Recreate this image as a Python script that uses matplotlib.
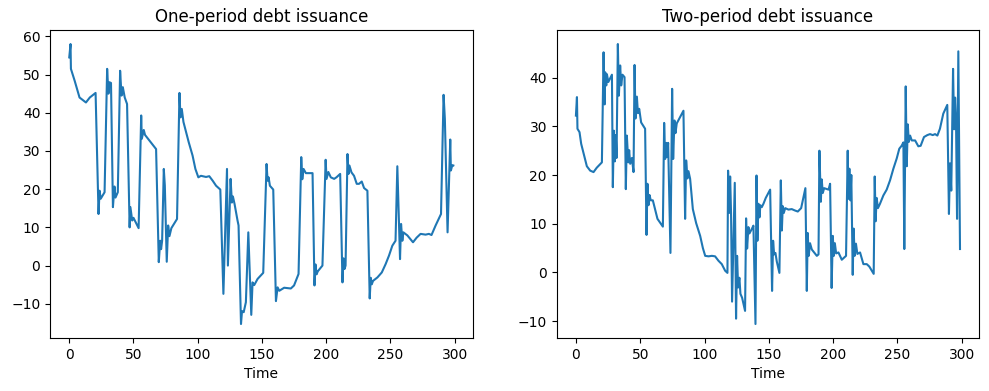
import matplotlib.pyplot as plt

# One-period debt issuance (time, value)
t_one = [0, 1, 1.3, 4.2, 8, 13, 16, 20.5, 22.8, 23.6, 24.5, 27.5, 29.5, 30.5, 31.3, 32.5,
         34, 35.2, 36, 37.8, 39.6, 40.7, 41.7, 43.2, 45, 47, 47.6, 49, 50, 54,
         56, 56.5, 58, 59, 62.5, 67.6, 69.7, 70.8, 71.5, 72.3, 73.6, 74.4, 75.9, 77, 78, 79.5,
         83.9, 85.8, 86.6, 87.6, 88.9, 93, 96, 98.2, 100.5, 102.5, 106.5, 109, 111.7, 114.3,
         117.6, 120, 122.8, 123.5, 125.6, 126.6, 127.4, 128.7, 131, 131.8, 133.7, 134.5,
         135.8, 137.5, 139.4, 141.7, 142.7, 144, 146.6, 151, 153.6, 154.4, 155.2, 156.2,
         158.8, 160.9, 162.2, 163.5, 167.3, 172.5, 175, 178.5, 180.6, 181.4, 182.4, 184.2,
         189.4, 190.9, 191.7, 192.5, 193.5, 197.1, 199.6, 200.3, 201.7, 203.6, 206.2, 208,
         210.9, 212.7, 213.5, 214.3, 215.1, 216.6, 217.4, 218.1, 219.7, 221.7, 223.8, 225.6,
         227.7, 229.5, 232.1, 233.9, 234.7, 235.5, 236.5, 239.9, 243.3, 246.3, 248.9, 251.5,
         254, 255.4, 257.5, 258.3, 259.3, 260.1, 263.2, 267.6, 270.4, 273.5, 277.4, 280, 282,
         285.2, 289.4, 291.4, 292.4, 294.5, 296.6, 297.1, 298.2, 299]
v_one = [54.5, 58, 51.5, 48.4, 44, 42.7, 44, 45.2, 13.5, 19.6, 17.5, 19.2, 51.5, 45, 48, 47.8,
         15.3, 20.7, 17.8, 19.2, 51, 44.5, 46.7, 44, 42.3, 10, 15.3, 11.8, 12.5, 9.8,
         39.3, 33.2, 35.5, 34.2, 32.7, 30.5, 0.9, 6.5, 4.3, 6.5, 25.3, 21, 1, 10.5, 7.7, 9.8,
         12.2, 45.2, 38.8, 41, 37.6, 32.3, 28.8, 25.3, 23.1, 23.5, 23.2, 23.4, 22.2, 20.9,
         19.9, -7.4, 25.3, 0, 22.7, 16.5, 18.1, 16.1, 11.8, 10.5, -15.3, -11.9,
         -12.2, -9.6, 8.7, -12.9, -4.4, -5.1, -3.5, -1.9, 26.6, 22.2, 23.1, 20.9,
         19.9, -9.3, -5.7, -6.6, -5.8, -6, -5.2, -2.2, 28.4, 22.6, 25.3, 24.2,
         24.2, -5.2, 0.3, -2.3, -1.5, 0, 27.7, 22.7, 24.5, 23.1, 22.7, 23.1,
         24, -4.4, 1.9, -0.9, 0, 29.2, 24, 26.2, 24.4, 23.5, 21.4, 21.4,
         22, 20.3, 19.6, -8.6, -3.2, -4.9, -4, -3.1, -1.8, 0.4, 2.6, 5.2,
         6.5, 26, 1.7, 10.9, 6.5, 8.7, 7.9, 6.1, 7.3, 8.3, 8.1, 8.3, 8,
         10.5, 13.5, 44.7, 38.4, 8.7, 33, 24.9, 26.3, 26.2]

# Two-period debt issuance
t_two = [0, 0.8, 1.2, 2.8, 4.1, 6.4, 8.5, 11.1, 13.7, 16.2, 20.2, 21.5, 22.3, 22.8, 23.6,
         24.1, 25.2, 28, 28.7, 29.5, 30.3, 31, 31.6, 32.6, 33.4, 34.4, 35.2, 36.2, 37.8,
         38.8, 39.6, 40.7, 41.4, 42.2, 43.5, 44.8, 45.6, 46.3, 47.4, 48.2, 49.2, 50.7, 53.8,
         54.9, 55.6, 56.4, 57.2, 58.2, 59.8, 63.4, 67.6, 68.6, 69.4, 70.2, 70.9, 71.7, 73.5,
         74.8, 75.6, 76.6, 77.4, 78.4, 83.6, 84.9, 85.7, 86.7, 87.5, 88.8, 90.9, 93.5, 96.6,
         98.7, 100.5, 103.1, 105.7, 108.2, 110.8, 113.4, 116, 117.8, 118.3, 119.1, 119.9,
         120.6, 121.4, 123.5, 124.5, 125.3, 126.1, 127.1, 127.9, 129.2, 131.5, 132.3, 133.1,
         134.1, 134.9, 136.7, 138, 139.6, 140.4, 141.1, 141.9, 142.7, 143.4, 144.5, 145.8,
         147.6, 151, 152.5, 153.3, 154.1, 155.1, 156.2, 158.2, 159.3, 160.1, 160.8, 161.6,
         162.7, 165.2, 167.8, 170.4, 172.5, 175.1, 178.4, 179.5, 180.2, 181, 182, 183.4,
         187.3, 188.6, 189.3, 190.4, 191.1, 191.9, 193, 196.4, 197.6, 198.8, 199.7, 200.5,
         201.3, 202.3, 204.1, 206.7, 210, 211.3, 211.8, 212.6, 213.4, 214.1, 215.2, 215.9,
         216.7, 217.7, 218.8, 220.9, 223.5, 226.1, 228.1, 231.5, 232.3, 233, 233.8, 234.8,
         236.4, 239, 241.6, 244.2, 246.8, 249.4, 251.4, 253.2, 254.6, 255.3, 256.4, 257.2,
         258, 258.8, 259.8, 261.1, 263.7, 266.2, 268, 270.6, 273.2, 275.3, 277.4, 279.2,
         281, 283, 285.6, 288.7, 290, 290.8, 291.8, 293.2, 294, 294.8, 295.5, 296.3, 297.3,
         298.6]
v_two = [32.2, 36, 29.5, 28.8, 26.4, 24, 21.8, 20.9, 20.6, 21.5, 22.6, 45.2, 34.5, 41.1, 38.4,
         40.7, 39.1, 40.6, 17.5, 29.1, 22.8, 28.2, 23.5, 46.9, 36.3, 42.5, 38.4, 40.6, 40.1,
         17.1, 28.1, 22.6, 25.1, 22.3, 23.5, 20.6, 42.6, 31.6, 36.1, 32.7, 33.6, 30.8, 29.5,
         7.7, 18.2, 13.8, 15.9, 14.8, 14.8, 11, 9.4, 30.7, 23.3, 26.6, 23.7, 26.6, 4,
         37.7, 23.3, 31.2, 28.6, 30.6, 33.2, 11, 23, 19.3, 20.8, 19.2, 13, 10.1, 7.5,
         5, 3.4, 3.3, 3.4, 3.3, 2.4, 1.7, 0.35, -0.1, 20.9, 12.2, 19.7,
         12.2, -6, 18.4, -9.5, 3.4, -3.1, -1.1, -4.4, -5.2, -7.9, 11.1, 4.9,
         9.3, 8, 8.9, 9.6, -10.6, 19.9, 6.5, 14.1, 11.3, 13.8, 13.4, 14.1,
         15.3, 17, -3.8, 6.5, 3.7, 4, 2.2, -0.1, 18.9, 8.6, 13.6, 12.2,
         13.2, 12.9, 13, 12.7, 12.5, 13.2, 17.3, -3.8, 8.1, 3.4, 6, 4.7,
         3.4, 3.7, 25, 14.5, 19.1, 16.3, 17.3, 17, 18.2, -3.2, 7.5, 3.4,
         6, 3.9, 4.1, 2.6, 3.4, 25, 15.1, 21.3, 14.8, 20, -0.5, 9,
         3.4, 5.9, 3.8, 4.1, 1.7, 1.7, 1.2, -0.3, 19.7, 10.5, 15.3, 13.2,
         14.1, 15.8, 17, 18.9, 21.3, 23.4, 25.4, 26, 26.7, 4.8, 38.2, 21.8,
         30.4, 26.8, 28.1, 27.1, 27.1, 25.9, 26, 27.8, 28.2, 28.4, 28.2, 28.4,
         28.1, 29.5, 32.6, 34.4, 12, 22.4, 16.8, 41.8, 29.4, 35.9, 31.5, 11, 45.4,
         4.8]

titles = ['One-period debt issuance', 'Two-period debt issuance']

fig = plt.figure(figsize=(9.89, 3.91), dpi=100)
ax1 = fig.add_axes([0.0506, 0.1355, 0.4272, 0.7877])
ax2 = fig.add_axes([0.5629, 0.1355, 0.4272, 0.7877])

for ax, t, v, title in zip([ax1, ax2], [t_one, t_two], [v_one, v_two], titles):
    ax.plot(t, v, color='tab:blue', lw=1.5)
    ax.set_title(title)
    ax.set_xlabel('Time')

fig.savefig('out.png', dpi=100)
